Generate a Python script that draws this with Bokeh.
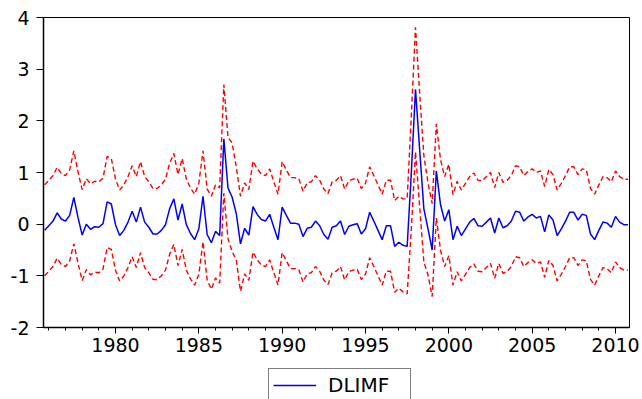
from bokeh.plotting import figure
from bokeh.models import Range1d, FixedTicker, Legend, LegendItem, ColumnDataSource
from bokeh.layouts import column
from bokeh.embed import file_html
from bokeh.resources import INLINE
import numpy as np

# Quarterly observations, 1975Q4 .. 2010Q4
start_year = 1975.75
n_obs = 141

dlimf = [
    -0.12, -0.03, 0.06, 0.22, 0.10, 0.06, 0.17, 0.52, 0.13, -0.21,
    0.00, -0.10, -0.05, -0.06, 0.01, 0.43, 0.39, -0.01, -0.22, -0.12,
    0.04, 0.25, 0.04, 0.33, 0.04, -0.06, -0.19, -0.19, -0.12, -0.01,
    0.30, 0.49, 0.08, 0.39, -0.01, -0.18, -0.30, -0.09, 0.54, -0.20,
    -0.36, -0.14, -0.22, 1.65, 0.70, 0.52, 0.20, -0.38, -0.08, -0.21,
    0.34, 0.19, 0.09, 0.06, 0.19, -0.06, -0.30, 0.33, 0.17, 0.02,
    0.02, 0.00, -0.24, -0.08, -0.06, 0.06, -0.03, -0.20, -0.29, -0.06,
    -0.03, 0.06, -0.20, -0.04, -0.01, 0.01, -0.19, -0.09, 0.23, 0.06,
    -0.12, -0.30, -0.03, -0.03, -0.43, -0.35, -0.41, -0.43, 1.00, 2.61,
    1.44, 0.30, -0.09, -0.50, 1.03, 0.38, 0.06, 0.28, -0.30, -0.04,
    -0.22, -0.09, 0.04, 0.11, -0.03, -0.04, 0.04, 0.12, -0.17, 0.12,
    -0.07, -0.03, 0.06, 0.25, 0.23, 0.06, 0.14, 0.19, 0.12, 0.15,
    -0.15, 0.18, 0.08, -0.22, -0.09, 0.06, 0.23, 0.23, 0.08, 0.19,
    0.17, -0.19, -0.30, -0.12, 0.04, 0.02, -0.06, 0.15, 0.04, -0.01,
    -0.01,
]

upper = [
    0.76, 0.85, 0.94, 1.10, 0.98, 0.94, 1.05, 1.42, 1.01, 0.67,
    0.88, 0.78, 0.83, 0.82, 0.89, 1.31, 1.27, 0.87, 0.66, 0.76,
    0.92, 1.13, 0.92, 1.21, 0.92, 0.82, 0.69, 0.69, 0.76, 0.87,
    1.18, 1.37, 0.96, 1.27, 0.87, 0.70, 0.58, 0.79, 1.42, 0.68,
    0.54, 0.76, 0.70, 2.70, 1.68, 1.57, 1.10, 0.54, 0.80, 0.67,
    1.22, 1.07, 0.97, 0.94, 1.07, 0.82, 0.58, 1.21, 1.05, 0.90,
    0.90, 0.88, 0.64, 0.80, 0.82, 0.94, 0.85, 0.68, 0.59, 0.82,
    0.85, 0.94, 0.68, 0.84, 0.87, 0.89, 0.69, 0.79, 1.11, 0.94,
    0.76, 0.58, 0.85, 0.85, 0.46, 0.54, 0.49, 0.49, 2.10, 3.81,
    2.54, 1.33, 0.80, 0.40, 1.94, 1.25, 0.92, 1.16, 0.57, 0.83,
    0.66, 0.79, 0.92, 0.99, 0.85, 0.84, 0.92, 1.00, 0.71, 1.00,
    0.81, 0.85, 0.94, 1.13, 1.11, 0.94, 1.02, 1.07, 1.00, 1.03,
    0.73, 1.06, 0.96, 0.66, 0.79, 0.94, 1.11, 1.11, 0.96, 1.07,
    1.05, 0.69, 0.58, 0.76, 0.92, 0.90, 0.82, 1.03, 0.92, 0.87,
    0.87,
]

lower = [
    -1.00, -0.91, -0.82, -0.66, -0.78, -0.82, -0.71, -0.38, -0.75, -1.09,
    -0.88, -0.98, -0.93, -0.94, -0.87, -0.45, -0.49, -0.89, -1.10, -1.00,
    -0.84, -0.63, -0.84, -0.55, -0.84, -0.94, -1.07, -1.07, -1.00, -0.89,
    -0.58, -0.39, -0.80, -0.49, -0.89, -1.06, -1.18, -0.97, -0.34, -1.08,
    -1.26, -1.04, -1.14, 0.60, -0.28, -0.53, -0.70, -1.30, -0.96, -1.09,
    -0.54, -0.69, -0.79, -0.82, -0.69, -0.94, -1.18, -0.55, -0.71, -0.86,
    -0.86, -0.88, -1.12, -0.96, -0.94, -0.82, -0.91, -1.08, -1.17, -0.94,
    -0.91, -0.82, -1.08, -0.92, -0.89, -0.87, -1.07, -0.97, -0.65, -0.82,
    -1.00, -1.18, -0.91, -0.91, -1.32, -1.24, -1.31, -1.35, -0.10, 1.40,
    0.34, -0.73, -0.98, -1.40, 0.12, -0.50, -0.82, -0.61, -1.18, -0.92,
    -1.10, -0.97, -0.84, -0.77, -0.91, -0.92, -0.84, -0.76, -1.05, -0.76,
    -0.95, -0.91, -0.82, -0.63, -0.65, -0.82, -0.74, -0.69, -0.76, -0.73,
    -1.03, -0.70, -0.80, -1.10, -0.97, -0.82, -0.65, -0.65, -0.80, -0.69,
    -0.71, -1.07, -1.18, -1.00, -0.84, -0.86, -0.94, -0.73, -0.84, -0.89,
    -0.89,
]

year_ticks = [1980, 1985, 1990, 1995, 2000, 2005, 2010]
y_ticks = [-2, -1, 0, 1, 2, 3, 4]
y_tick_labels = {t: str(t) for t in y_ticks}

dates = start_year + 0.25 * np.arange(n_obs)
src = ColumnDataSource(dict(t=dates, y=dlimf, up=upper, lo=lower))

FONT = "DejaVu Sans"
BLUE = "#0000FF"
RED = "#FF0000"

p = figure(width=642, height=360, output_backend="svg", toolbar_location=None,
           x_range=Range1d(1975.68, 2010.84), y_range=Range1d(-2, 4),
           min_border_left=43, min_border_right=13, min_border_top=17,
           min_border_bottom=33)

p.background_fill_color = "white"
p.border_fill_color = "white"
p.outline_line_color = "black"
p.outline_line_width = 1
p.xgrid.visible = False
p.ygrid.visible = False

p.line("t", "up", source=src, line_color=RED, line_width=1.4, line_dash="5 3")
p.line("t", "lo", source=src, line_color=RED, line_width=1.4, line_dash="5 3")
p.line("t", "y", source=src, line_color=BLUE, line_width=1.5)

xa = p.xaxis[0]
xa.ticker = FixedTicker(ticks=year_ticks, minor_ticks=list(range(1976, 2011)))
xa.major_tick_in = 0
xa.major_tick_out = 6
xa.minor_tick_in = 0
xa.minor_tick_out = 3
xa.axis_line_width = 1.5
xa.major_label_text_font = FONT
xa.major_label_text_font_size = "19px"
xa.major_label_text_color = "black"
xa.major_label_standoff = 4

ya = p.yaxis[0]
ya.ticker = FixedTicker(ticks=y_ticks)
ya.major_label_overrides = y_tick_labels
ya.major_tick_in = 0
ya.major_tick_out = 7
ya.minor_tick_out = 0
ya.minor_tick_in = 0
ya.axis_line_width = 1.5
ya.major_label_text_font = FONT
ya.major_label_text_font_size = "19px"
ya.major_label_text_color = "black"
ya.major_label_standoff = 7

# Legend strip below the chart (its frame is aligned with the chart's frame)
lg = figure(width=642, height=39, output_backend="svg", toolbar_location=None,
            x_range=Range1d(0, 1), y_range=Range1d(0, 1),
            x_axis_type=None, y_axis_type=None,
            min_border_left=43, min_border_right=13, min_border_top=0,
            min_border_bottom=0)
lg.outline_line_color = None
lg.xgrid.visible = False
lg.ygrid.visible = False
lg.background_fill_color = "white"
lg.border_fill_color = "white"
# same series, drawn outside this strip's ranges: only its legend key shows
key = lg.line("t", "y", source=src, line_color=BLUE, line_width=1.5)

legend = Legend(items=[LegendItem(label="DLIMF", renderers=[key])],
                location=(225, -3), orientation="horizontal",
                border_line_color="black", border_line_width=1,
                label_text_font=FONT, label_text_font_size="20px",
                label_text_color="black", label_width=78,
                glyph_width=43, glyph_height=18, label_standoff=12,
                padding=4, margin=0, spacing=0, background_fill_alpha=1)
lg.add_layout(legend, "center")

layout = column(p, lg, spacing=0)
open("out.html", "w").write(file_html(layout, INLINE))
